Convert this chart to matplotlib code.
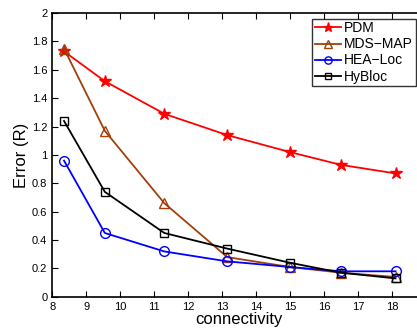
import matplotlib
matplotlib.use('Agg')
import matplotlib.pyplot as plt

# connectivity values and errors
connectivity = [8.35, 9.55, 11.3, 13.15, 15.0, 16.5, 18.1]
pdm = [1.73, 1.52, 1.29, 1.14, 1.02, 0.93, 0.87]
mds_map = [1.75, 1.17, 0.66, 0.28, 0.21, 0.17, 0.14]
hea_loc = [0.96, 0.45, 0.32, 0.25, 0.21, 0.18, 0.18]
hybloc = [1.24, 0.74, 0.45, 0.34, 0.24, 0.17, 0.13]

plt.rcParams['font.family'] = ['Liberation Sans', 'DejaVu Sans']

fig = plt.figure(figsize=(4.17, 3.28), dpi=100)
ax = fig.add_axes([0.125, 0.095, 0.897, 0.865])

ax.plot(connectivity, pdm, color='#ff0000', marker='*', markersize=9,
        markerfacecolor='#ff0000', lw=1.3, label='PDM')
ax.plot(connectivity, mds_map, color='#a0400a', marker='^', markersize=7,
        markerfacecolor='none', lw=1.3, label='MDS\u2212MAP')
ax.plot(connectivity, hea_loc, color='#0000ff', marker='o', markersize=7,
        markerfacecolor='none', lw=1.3, label='HEA\u2212Loc')
ax.plot(connectivity, hybloc, color='#000000', marker='s', markersize=5.5,
        markerfacecolor='none', lw=1.3, label='HyBloc')

ax.set_xlim(8, 19)
ax.set_ylim(0, 2)
ax.set_xticks(range(8, 19))
ax.set_yticks([0, 0.2, 0.4, 0.6, 0.8, 1, 1.2, 1.4, 1.6, 1.8, 2])
ax.set_yticklabels(['0', '0.2', '0.4', '0.6', '0.8', '1', '1.2', '1.4', '1.6', '1.8', '2'])
ax.tick_params(direction='in', top=True, right=True, labelsize=8, length=4, width=0.8)
for s in ax.spines.values():
    s.set_linewidth(1.2)

ax.set_xlabel('connectivity', fontsize=12, labelpad=0)
ax.set_ylabel('Error (R)', fontsize=12, labelpad=2)

leg = ax.legend(loc='upper right', bbox_to_anchor=(0.972, 0.981), fontsize=10,
                frameon=True, fancybox=False, edgecolor='black', handlelength=1.9,
                borderpad=0.2, labelspacing=0.15, handletextpad=0.2, borderaxespad=0,
                markerscale=0.75)
leg.get_frame().set_linewidth(1.0)

plt.savefig('out.png', dpi=100)
